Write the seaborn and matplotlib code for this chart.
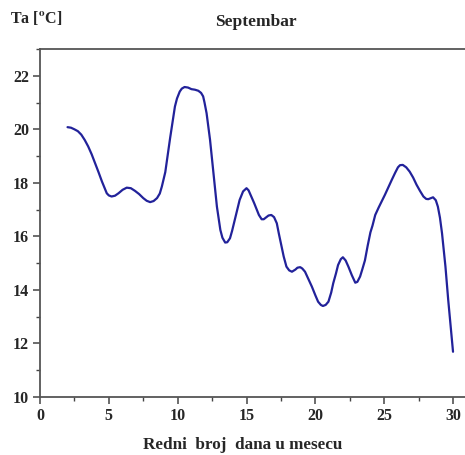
import matplotlib
matplotlib.use("Agg")
import matplotlib.pyplot as plt
from matplotlib.ticker import MultipleLocator
import seaborn as sns
import pandas as pd

days = [2.0, 2.25, 2.5, 2.75, 3.0, 3.25, 3.5, 3.75, 4.0, 4.25, 4.5, 4.7, 4.85,
        5.0, 5.2, 5.45, 5.7, 6.0, 6.3, 6.6, 6.9, 7.2, 7.5, 7.75, 8.0, 8.25,
        8.5, 8.7, 8.85, 9.1, 9.45, 9.8, 9.95, 10.15, 10.3, 10.5, 10.75, 11.0,
        11.25, 11.5, 11.7, 11.85, 11.95, 12.1, 12.35, 12.6, 12.85, 13.1, 13.25,
        13.45, 13.6, 13.8, 13.95, 14.15, 14.3, 14.5, 14.75, 15.0, 15.15, 15.35,
        15.55, 15.75, 15.9, 16.1, 16.25, 16.45, 16.6, 16.8, 17.0, 17.2, 17.35,
        17.55, 17.7, 17.9, 18.1, 18.3, 18.55, 18.7, 18.9, 19.05, 19.25, 19.5,
        19.75, 20.0, 20.2, 20.4, 20.55, 20.75, 20.95, 21.15, 21.3, 21.5, 21.65,
        21.85, 22.0, 22.2, 22.4, 22.65, 22.9, 23.05, 23.25, 23.4, 23.6, 23.8,
        24.0, 24.15, 24.35, 24.6, 25.05, 25.55, 25.8, 26.0, 26.15, 26.35, 26.6,
        26.85, 27.1, 27.35, 27.6, 27.85, 28.05, 28.2, 28.4, 28.55, 28.75, 28.9,
        29.05, 29.2, 29.45, 29.65, 29.85, 30.0]
temps = [20.08, 20.06, 20.0, 19.93, 19.8, 19.6, 19.36, 19.07, 18.74, 18.4,
         18.05, 17.8, 17.61, 17.53, 17.49, 17.52, 17.61, 17.74, 17.82, 17.8,
         17.70, 17.58, 17.43, 17.33, 17.28, 17.32, 17.43, 17.6, 17.86, 18.4,
         19.67, 20.85, 21.15, 21.41, 21.52, 21.58, 21.56, 21.50, 21.48, 21.44,
         21.36, 21.23, 21.0, 20.6, 19.61, 18.36, 17.11, 16.24, 15.95, 15.77,
         15.78, 15.93, 16.2, 16.62, 16.95, 17.36, 17.68, 17.80, 17.72, 17.49,
         17.25, 16.99, 16.8, 16.64, 16.64, 16.72, 16.78, 16.80, 16.72, 16.49,
         16.1, 15.62, 15.25, 14.87, 14.73, 14.68, 14.76, 14.83, 14.85, 14.8,
         14.68, 14.4, 14.12, 13.8, 13.56, 13.44, 13.40, 13.44, 13.56, 13.9,
         14.25, 14.62, 14.93, 15.15, 15.22, 15.1, 14.87, 14.55, 14.27, 14.3,
         14.5, 14.75, 15.1, 15.65, 16.15, 16.4, 16.8, 17.08, 17.55, 18.11,
         18.38, 18.58, 18.66, 18.67, 18.58, 18.42, 18.2, 17.93, 17.7, 17.49,
         17.4, 17.39, 17.43, 17.46, 17.35, 17.11, 16.7, 16.12, 14.87, 13.63,
         12.50, 11.69]

x_ticks = [0, 5, 10, 15, 20, 25, 30]
y_ticks = [10, 12, 14, 16, 18, 20, 22]
title = "Septembar"
xlabel = "Redni  broj  dana u mesecu"
ylabel = r"Ta [$^{\mathbf{o}}$C]"

sns.set_style("white")
plt.rcParams["font.family"] = ["Liberation Serif", "DejaVu Serif"]
plt.rcParams["font.weight"] = "bold"
plt.rcParams["mathtext.fontset"] = "stix"

df = pd.DataFrame({"day": days, "temp": temps})

fig = plt.figure(figsize=(4.65, 4.55), dpi=100)
ax = fig.add_axes([40 / 465, 58 / 455, 1 - 40 / 465, 348 / 455])

sns.lineplot(data=df, x="day", y="temp", ax=ax, sort=False, estimator=None,
             color="#22229a", linewidth=1.6, solid_joinstyle="round",
             solid_capstyle="round")

ax.set_xlim(0, 30.87)
ax.set_ylim(10, 23)
ax.set_xticks(x_ticks)
ax.set_yticks(y_ticks)
ax.xaxis.set_minor_locator(MultipleLocator(2.5))
ax.yaxis.set_minor_locator(MultipleLocator(1))
ax.tick_params(which="major", direction="out", length=5, width=1.1,
               color="#444444", labelsize=11.5, pad=3,
               bottom=True, left=True)
ax.tick_params(which="minor", direction="out", length=3, width=1.0,
               color="#444444", bottom=True, left=True)
for lab in ax.get_xticklabels() + ax.get_yticklabels():
    lab.set_fontweight("bold")

for side in ["left", "bottom", "top"]:
    ax.spines[side].set_visible(True)
    ax.spines[side].set_color("#555555")
    ax.spines[side].set_linewidth(1.3)
ax.spines["right"].set_visible(False)

ax.set_xlabel("")
ax.set_ylabel("")

fig.text(256 / 465, 1 - 22 / 455, title, ha="center", va="center",
         fontsize=12.5, fontweight="bold")
fig.text(243 / 465, 1 - 445 / 455, xlabel, ha="center", va="center",
         fontsize=12.3, fontweight="bold")
fig.text(10 / 465, 1 - 18 / 455, ylabel, ha="left", va="center",
         fontsize=11.5, fontweight="bold")

fig.savefig("out.png", dpi=100)
